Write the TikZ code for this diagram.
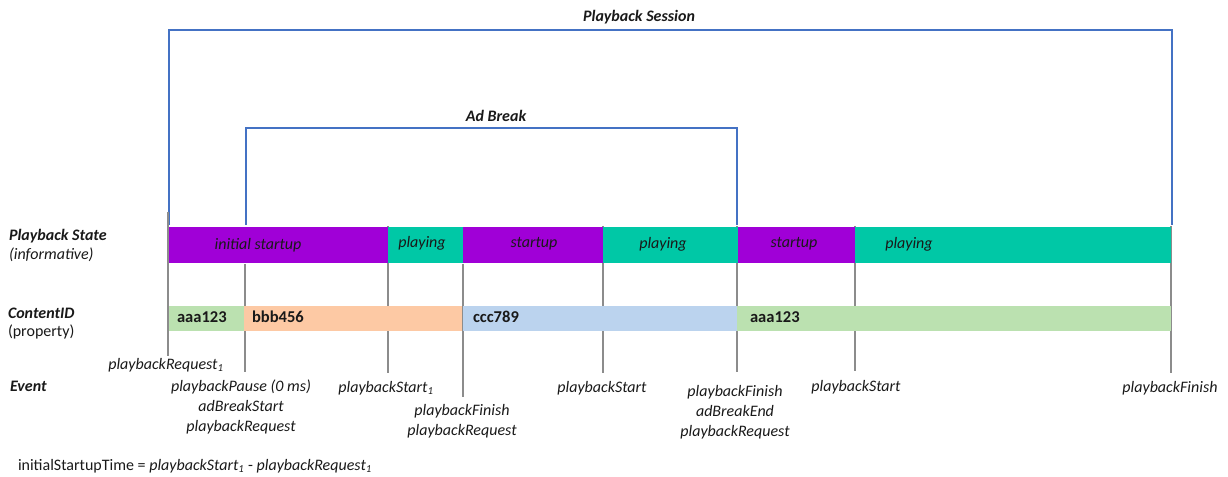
\documentclass[tikz,border=0pt]{standalone}
\usepackage{fontspec}
\setmainfont{Carlito}
\definecolor{stpurple}{RGB}{160,0,215}
\definecolor{stteal}{RGB}{0,200,166}
\definecolor{cgreen}{RGB}{187,225,176}
\definecolor{cpeach}{RGB}{253,201,164}
\definecolor{cblue}{RGB}{187,211,238}
\definecolor{brblue}{RGB}{68,114,196}
\definecolor{tick}{RGB}{140,140,140}
\begin{document}
\begin{tikzpicture}[x=0.75pt,y=-0.75pt,
  every node/.style={inner sep=0pt, outer sep=0pt, text=black!90},
  font=\fontsize{12}{15}\selectfont,
  bracket/.style={draw=brblue, line width=0.8pt},
  tickline/.style={draw=tick, line width=0.8pt},
  title/.style={font=\fontsize{12}{15}\selectfont\bfseries\itshape},
  statelbl/.style={font=\fontsize{12}{15}\selectfont\itshape},
  idlbl/.style={font=\fontsize{12.4}{15}\selectfont\bfseries, anchor=west},
  evlbl/.style={font=\fontsize{12}{15}\selectfont\itshape, align=center},
  rowlbl/.style={anchor=west, align=left}]
\useasboundingbox (0,0) rectangle (1228,477);

% brackets
\coordinate (s0) at (169,225);
\coordinate (s1) at (1172,225);
\coordinate (a0) at (246,225);
\coordinate (a1) at (737,225);
\draw[bracket] (s0) -- (169,30) -- (1172,30) -- (s1);
\draw[bracket] (a0) -- (246,128) -- (737,128) -- (a1);
\node[title] (tsess) at (639,17) {Playback Session};
\node[title] (tad) at (496,116) {Ad Break};

% tick lines (behind bars)
\coordinate (t1a) at (168,212);  \coordinate (t1b) at (168,356);
\coordinate (t2a) at (245,264);  \coordinate (t2b) at (245,372);
\coordinate (t3a) at (388,226);  \coordinate (t3b) at (388,373);
\coordinate (t4a) at (463,264);  \coordinate (t4b) at (463,397);
\coordinate (t5a) at (603,226);  \coordinate (t5b) at (603,373);
\coordinate (t6a) at (737,226);  \coordinate (t6b) at (737,372);
\coordinate (t7a) at (855,226);  \coordinate (t7b) at (855,371);
\coordinate (t8a) at (1171,226); \coordinate (t8b) at (1171,373);
\foreach \i in {1,...,8} {\draw[tickline] (t\i a) -- (t\i b);}

% playback state bars
\fill[stpurple] (169,227) rectangle (388,263);
\fill[stteal]   (388,227) rectangle (463,263);
\fill[stpurple] (463,227) rectangle (603,263);
\fill[stteal]   (603,227) rectangle (738,263);
\fill[stpurple] (738,227) rectangle (855,263);
\fill[stteal]   (855,227) rectangle (1171,263);
\node[statelbl] (s1l) at (258,245) {initial startup};
\node[statelbl] (s2l) at (422,243) {playing};
\node[statelbl] (s3l) at (534,244) {startup};
\node[statelbl] (s4l) at (663,244) {playing};
\node[statelbl] (s5l) at (794,244) {startup};
\node[statelbl] (s6l) at (909,244) {playing};

% content id bars
\fill[cgreen] (169,306) rectangle (244,331);
\fill[cpeach] (244,306) rectangle (462,331);
\fill[cblue]  (463,306) rectangle (737,331);
\fill[cgreen] (737,306) rectangle (1171,331);
\node[idlbl] (c1) at (177,317) {aaa123};
\node[idlbl] (c2) at (252,317) {bbb456};
\node[idlbl] (c3) at (473,317) {ccc789};
\node[idlbl] (c4) at (750,317) {aaa123};

% row labels
\node[rowlbl, font=\fontsize{12}{15}\selectfont\bfseries\itshape] (rl1) at (9,236) {Playback State};
\node[rowlbl, font=\fontsize{12}{15}\selectfont\itshape] (rl1b) at (9,255) {(informative)};
\node[rowlbl, font=\fontsize{12}{15}\selectfont\bfseries\itshape] (rl2) at (8,313) {ContentID};
\node[rowlbl] (rl2b) at (8,332) {(property)};
\node[rowlbl, font=\fontsize{12}{15}\selectfont\bfseries\itshape] (rl3) at (10,386) {Event};

% event labels
\node[evlbl] (e1) at (166,365) {playbackRequest\textsubscript{1}};
\node[evlbl, anchor=north] (e2) at (241,380) {playbackPause (0 ms)\\adBreakStart\\playbackRequest};
\node[evlbl] (e3) at (386,388) {playbackStart\textsubscript{1}};
\node[evlbl, anchor=north] (e4) at (462,404) {playbackFinish\\playbackRequest};
\node[evlbl] (e5) at (602,388) {playbackStart};
\node[evlbl, anchor=north] (e6) at (735,385) {playbackFinish\\adBreakEnd\\playbackRequest};
\node[evlbl] (e7) at (856,387) {playbackStart};
\node[evlbl] (e8) at (1170,388) {playbackFinish};

\node[anchor=west] (formula) at (18,466) {initialStartupTime = \textit{playbackStart\textsubscript{1}} - \textit{playbackRequest\textsubscript{1}}};
\end{tikzpicture}
\end{document}
